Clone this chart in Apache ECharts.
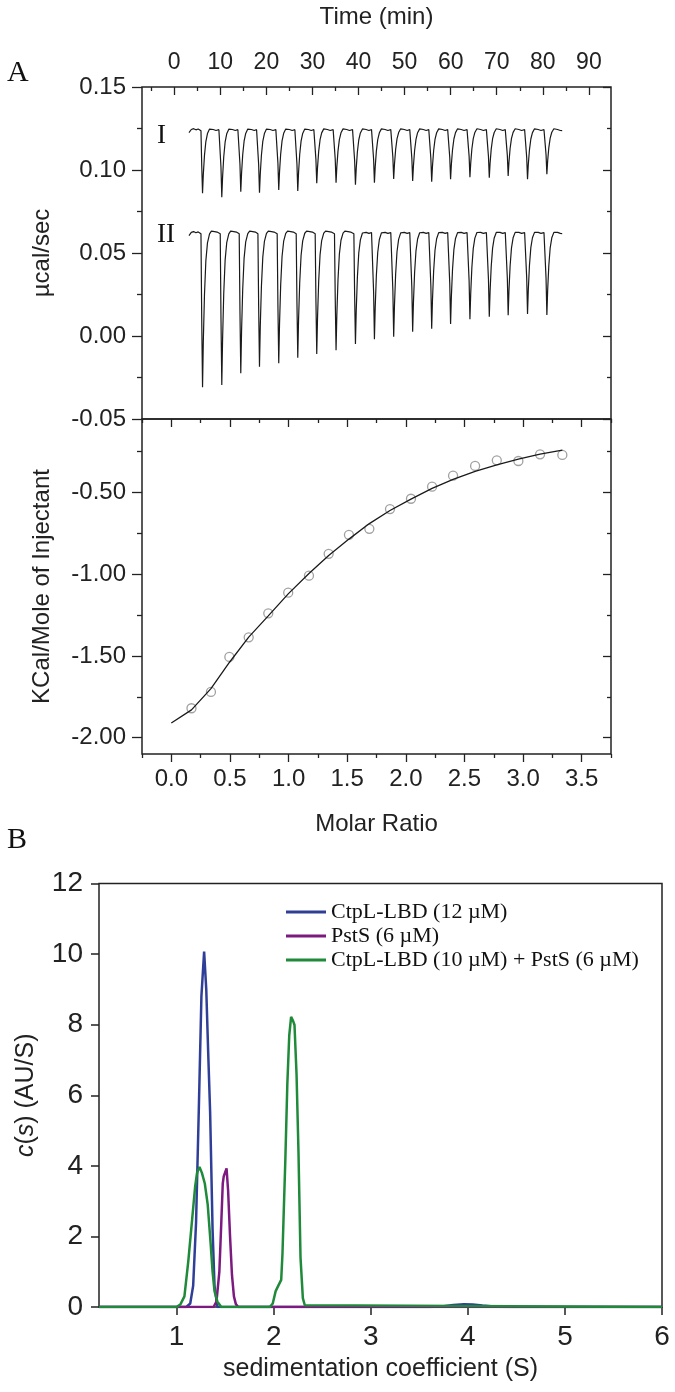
<!DOCTYPE html>
<html><head><meta charset="utf-8">
<script src="https://cdn.jsdelivr.net/npm/echarts@6/dist/echarts.min.js"></script>
<style>html,body{margin:0;padding:0;background:#fff}#c{width:675px;height:1392px}</style>
</head><body><div id="c"></div>
<script>
// ===== Panel A (top): raw ITC heat flow =====
const timeTickValues = [0,10,20,30,40,50,60,70,80,90];
const timeMinorValues = [-5,5,15,25,35,45,55,65,75,85];
const injectionTimes = [5.86,10.04,14.16,18.22,22.4,26.53,30.65,34.84,39.05,43.17,47.35,51.47,55.6,59.7,63.9,68.1,72.2,76.4,80.6];
const baselineI = [0.124];
const baselineII = [0.062];
const peakMinI = [0.086,0.0836,0.0869,0.0863,0.088,0.0873,0.092,0.0924,0.0911,0.0924,0.0946,0.0934,0.093,0.0944,0.0956,0.0954,0.0964,0.0944,0.0974];
const peakMinII = [-0.0309,-0.0295,-0.0225,-0.0185,-0.0164,-0.0131,-0.0108,-0.0086,-0.0048,-0.002,-0.0004,0.0026,0.0044,0.0072,0.0101,0.0116,0.0125,0.0133,0.0127];
// shape of one injection cycle (time offset, fraction of peak depth, baseline wiggle)
const cycleOffset = [-0.35,-0.06,0.10,0.28,0.45,0.7,1.0,1.35,1.8,2.2,2.6,2.9,3.2,3.45,3.6];
const cycleDepth  = [0,0,0.55,1,0.7,0.4,0.18,0.07,0.02,0,0,0,0,0,0];
const cycleWiggle = [0.0003,-0.0004,0,0,0,0,0,0.0006,0.0014,0.0012,0.0004,0.0009,-0.0002,0.0006,-0.0003];
const leadTimes  = [3.2,3.7,4.2,4.7,5.2];
const leadWiggle = [-0.0015,0.0004,0.0009,0.0002,0.0007];

// ===== Panel A (bottom): integrated heats =====
const ratioTickValues = [0,0.5,1,1.5,2,2.5,3,3.5];
const ratioMinorValues = [-0.25,0.25,0.75,1.25,1.75,2.25,2.75,3.25,3.75];
const heatTickValues = [-2,-1.5,-1,-0.5];
const heatMinorValues = [-1.75,-1.25,-0.75,-0.25];
const molarRatio = [0.172,0.338,0.495,0.660,0.827,0.997,1.174,1.342,1.515,1.689,1.865,2.044,2.224,2.403,2.591,2.776,2.960,3.145,3.335];
const heatPerInjection = [-1.82,-1.72,-1.506,-1.386,-1.239,-1.113,-1.009,-0.875,-0.759,-0.722,-0.601,-0.538,-0.464,-0.397,-0.337,-0.303,-0.307,-0.266,-0.270];
const fitRatio = [0,0.172,0.338,0.495,0.660,0.827,0.997,1.174,1.342,1.515,1.689,1.865,2.044,2.224,2.403,2.591,2.776,2.960,3.145,3.335];
const fitHeat  = [-1.91,-1.83,-1.70,-1.54,-1.385,-1.255,-1.12,-0.995,-0.885,-0.785,-0.69,-0.61,-0.54,-0.475,-0.42,-0.37,-0.33,-0.295,-0.265,-0.24];

// ===== Panel B: sedimentation c(s) =====
const sedTickValues = [1,2,3,4,5,6];
const seriesNames = ['CtpL-LBD (12 \u00b5M)','PstS (6 \u00b5M)','CtpL-LBD (10 \u00b5M) + PstS (6 \u00b5M)'];
const ctplS = [0.2,1.10,1.14,1.17,1.20,1.23,1.255,1.283,1.305,1.325,1.345,1.37,1.39,1.42,3.60,3.75,3.85,3.96,4.05,4.15,4.30,4.45,6.0];
const ctplC = [0,0,0.1,0.6,2.4,5.8,8.8,10.07,9.0,7.2,5.5,2.2,0.6,0,0,0.02,0.06,0.08,0.07,0.04,0.01,0,0];
const pstsS = [0.2,1.38,1.41,1.44,1.46,1.475,1.485,1.50,1.514,1.53,1.55,1.57,1.59,1.61,1.635,6.0];
const pstsC = [0,0,0.15,1.0,2.4,3.5,3.7,3.75,3.93,3.3,2.0,0.9,0.3,0.08,0,0];
const mixS = [0.2,1.0,1.04,1.08,1.12,1.16,1.19,1.21,1.235,1.26,1.29,1.32,1.35,1.37,1.39,1.42,1.46,1.96,1.99,2.02,2.05,2.077,2.09,2.10,2.12,2.14,2.16,2.179,2.20,2.214,2.235,2.255,2.276,2.30,2.32,2.34,6.0];
const mixC = [0,0,0.08,0.3,1.3,2.5,3.4,3.8,3.97,3.8,3.5,2.9,1.8,1.0,0.45,0.15,0,0,0.1,0.45,0.62,0.77,1.5,2.4,4.2,6.3,7.7,8.22,8.1,7.99,6.6,4.4,1.4,0.25,0.05,0,0];

// ---------- build marks from the arrays ----------
function buildTrace(base, mins){
  const pts = leadTimes.map((t,i)=>[t, base + leadWiggle[i]]);
  injectionTimes.forEach((t0,k)=>{
    cycleOffset.forEach((dt,j)=>{
      pts.push([t0+dt, base + cycleWiggle[j] - cycleDepth[j]*(base - mins[k])]);
    });
  });
  return pts;
}
const zip = (a,b)=>a.map((v,i)=>[v,b[i]]);

const INK = '#222';
const SANS = '"Liberation Sans", Arial, sans-serif';
const SERIF = '"Liberation Serif", "Times New Roman", serif';

function tickAxis(o){
  return Object.assign({
    type:'value', splitLine:{show:false},
    axisLine:{show:false, onZero:false},
    axisLabel:{show:false},
    axisTick:{show:true, lineStyle:{color:INK, width:1.3}}
  }, o);
}

const chart = echarts.init(document.getElementById('c'), null, {renderer:'canvas'});
const option = {
  animation:false,
  backgroundColor:'#fff',
  grid:[
    {left:142, top:87, width:469, height:332, show:true, borderColor:INK, borderWidth:1.5},
    {left:142, top:419, width:469, height:335, show:true, borderColor:INK, borderWidth:1.5},
    {left:99, top:883.5, width:563, height:423.5, show:true, borderColor:INK, borderWidth:1.5}
  ],
  xAxis:[
    tickAxis({gridIndex:0, position:'top', min:-7, max:94.8,
      axisTick:{show:true, inside:true, length:8, customValues:timeTickValues, lineStyle:{color:INK,width:1.3}},
      axisLabel:{show:true, customValues:timeTickValues, margin:13, fontSize:23, color:INK, fontFamily:SANS},
      name:'Time (min)', nameLocation:'middle', nameGap:58,
      nameTextStyle:{fontSize:24, color:INK, fontFamily:SANS}}),
    tickAxis({gridIndex:0, position:'top', min:-7, max:94.8,
      axisTick:{show:true, inside:true, length:4, customValues:timeMinorValues, lineStyle:{color:INK,width:1.3}}}),
    tickAxis({gridIndex:1, position:'bottom', min:-0.25, max:3.75,
      axisTick:{show:true, inside:false, length:8, customValues:ratioTickValues, lineStyle:{color:INK,width:1.3}},
      axisLabel:{show:true, customValues:ratioTickValues, margin:13, fontSize:24, color:INK, fontFamily:SANS,
        formatter:v=>v.toFixed(1)},
      name:'Molar Ratio', nameLocation:'middle', nameGap:58,
      nameTextStyle:{fontSize:24, color:INK, fontFamily:SANS}}),
    tickAxis({gridIndex:1, position:'bottom', min:-0.25, max:3.75,
      axisTick:{show:true, inside:false, length:4, customValues:ratioMinorValues, lineStyle:{color:INK,width:1.3}}}),
    tickAxis({gridIndex:1, position:'top', min:-0.25, max:3.75,
      axisTick:{show:true, inside:true, length:8, customValues:ratioTickValues, lineStyle:{color:INK,width:1.3}}}),
    tickAxis({gridIndex:1, position:'top', min:-0.25, max:3.75,
      axisTick:{show:true, inside:true, length:4, customValues:ratioMinorValues, lineStyle:{color:INK,width:1.3}}}),
    tickAxis({gridIndex:2, position:'bottom', min:0.2, max:6,
      axisTick:{show:true, inside:false, length:8, customValues:sedTickValues, lineStyle:{color:INK,width:1.5}},
      axisLabel:{show:true, customValues:sedTickValues, margin:16, fontSize:28, color:INK, fontFamily:SANS},
      name:'sedimentation coefficient (S)', nameLocation:'middle', nameGap:50,
      nameTextStyle:{fontSize:25, color:INK, fontFamily:SANS}})
  ],
  yAxis:[
    tickAxis({gridIndex:0, position:'left', min:-0.05, max:0.15, interval:0.05,
      axisTick:{show:true, inside:false, length:10, lineStyle:{color:INK,width:1.3}},
      minorTick:{show:true, splitNumber:2, length:5, lineStyle:{color:INK,width:1.3}},
      axisLabel:{show:true, margin:16, fontSize:24, color:INK, fontFamily:SANS, formatter:v=>v.toFixed(2)},
      name:'\u00b5cal/sec', nameLocation:'middle', nameGap:88,
      nameTextStyle:{fontSize:24, color:INK, fontFamily:SANS}}),
    tickAxis({gridIndex:0, position:'right', min:-0.05, max:0.15, interval:0.05,
      axisTick:{show:true, inside:true, length:8, lineStyle:{color:INK,width:1.3}},
      minorTick:{show:true, splitNumber:2, length:4, lineStyle:{color:INK,width:1.3}}}),
    tickAxis({gridIndex:1, position:'left', min:-2.1, max:-0.05,
      axisTick:{show:true, inside:false, length:10, customValues:heatTickValues, lineStyle:{color:INK,width:1.3}},
      axisLabel:{show:true, customValues:heatTickValues, margin:16, fontSize:24, color:INK, fontFamily:SANS, formatter:v=>v.toFixed(2)},
      name:'KCal/Mole of Injectant', nameLocation:'middle', nameGap:88,
      nameTextStyle:{fontSize:24, color:INK, fontFamily:SANS}}),
    tickAxis({gridIndex:1, position:'left', min:-2.1, max:-0.05,
      axisTick:{show:true, inside:false, length:5, customValues:heatMinorValues, lineStyle:{color:INK,width:1.3}}}),
    tickAxis({gridIndex:1, position:'right', min:-2.1, max:-0.05,
      axisTick:{show:true, inside:true, length:8, customValues:heatTickValues, lineStyle:{color:INK,width:1.3}}}),
    tickAxis({gridIndex:1, position:'right', min:-2.1, max:-0.05,
      axisTick:{show:true, inside:true, length:4, customValues:heatMinorValues, lineStyle:{color:INK,width:1.3}}}),
    tickAxis({gridIndex:2, position:'left', min:0, max:12, interval:2,
      axisTick:{show:true, inside:false, length:8, lineStyle:{color:INK,width:1.5}},
      axisLabel:{show:true, margin:16, fontSize:28, color:INK, fontFamily:SANS},
      name:'{i|c}({i|s}) (AU/S)', nameLocation:'middle', nameGap:60,
      nameTextStyle:{fontSize:25, color:INK, fontFamily:SANS,
        rich:{i:{fontStyle:'italic', fontSize:25, color:INK, fontFamily:SANS}}}})
  ],
  legend:{
    data:seriesNames, orient:'vertical', left:286, top:901, padding:0,
    icon:'rect', itemWidth:40, itemHeight:3, itemGap:2,
    textStyle:{fontFamily:SERIF, fontSize:22, color:'#111', lineHeight:22}
  },
  graphic:[
    {type:'text', left:7, top:58, style:{text:'A', font:'30px '+SERIF, fill:'#111'}},
    {type:'text', left:7, top:825, style:{text:'B', font:'30px '+SERIF, fill:'#111'}},
    {type:'text', left:157, top:122, style:{text:'I', font:'27px '+SERIF, fill:'#111'}},
    {type:'text', left:157, top:221, style:{text:'II', font:'27px '+SERIF, fill:'#111'}}
  ],
  series:[
    {type:'line', name:'trace I', xAxisIndex:0, yAxisIndex:0, showSymbol:false, symbol:'none',
      lineStyle:{color:'#1a1a1a', width:1.2}, data:buildTrace(baselineI[0], peakMinI)},
    {type:'line', name:'trace II', xAxisIndex:0, yAxisIndex:0, showSymbol:false, symbol:'none',
      lineStyle:{color:'#1a1a1a', width:1.2}, data:buildTrace(baselineII[0], peakMinII)},
    {type:'line', name:'fit', xAxisIndex:2, yAxisIndex:2, showSymbol:false, symbol:'none',
      lineStyle:{color:'#1a1a1a', width:1.3}, data:zip(fitRatio, fitHeat)},
    {type:'scatter', name:'heats', xAxisIndex:2, yAxisIndex:2, symbol:'circle', symbolSize:9,
      itemStyle:{color:'rgba(0,0,0,0)', borderColor:'#8a8a8a', borderWidth:1.3}, data:zip(molarRatio, heatPerInjection)},
    {type:'line', name:seriesNames[0], xAxisIndex:6, yAxisIndex:6, showSymbol:false, symbol:'none',
      color:'#2f3f98', lineStyle:{color:'#2f3f98', width:2.5}, itemStyle:{color:'#2f3f98'}, data:zip(ctplS, ctplC)},
    {type:'line', name:seriesNames[1], xAxisIndex:6, yAxisIndex:6, showSymbol:false, symbol:'none',
      color:'#7d1a80', lineStyle:{color:'#7d1a80', width:2.5}, itemStyle:{color:'#7d1a80'}, data:zip(pstsS, pstsC)},
    {type:'line', name:seriesNames[2], xAxisIndex:6, yAxisIndex:6, showSymbol:false, symbol:'none',
      color:'#1f8a3a', lineStyle:{color:'#1f8a3a', width:2.5}, itemStyle:{color:'#1f8a3a'}, data:zip(mixS, mixC)}
  ]
};
chart.setOption(option);
</script>
</body></html>
